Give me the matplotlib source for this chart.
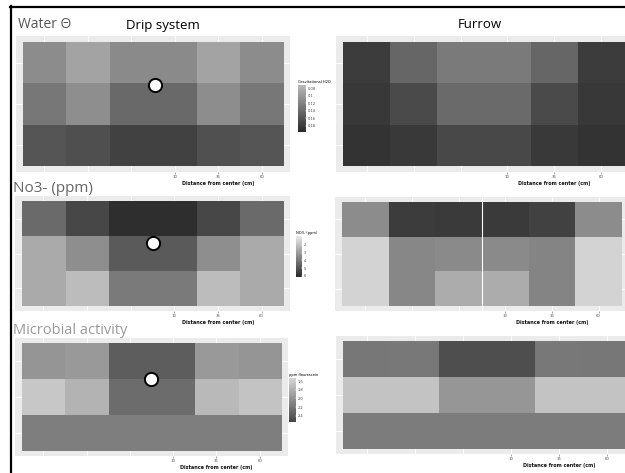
import numpy as np
import matplotlib
matplotlib.use('Agg')
import matplotlib.pyplot as plt
from matplotlib.colors import LinearSegmentedColormap
from matplotlib.lines import Line2D

W, H = 625, 473

# columns = distance from center (cm), rows = depth (top to bottom)
distances = ['-60', '-35', '-10', '10', '35', '60']
tick_labels = ['', '', '', '10', '35', '60']

# Gravitational H2O
water_drip = [
    [0.111, 0.091, 0.113, 0.113, 0.091, 0.111],
    [0.129, 0.109, 0.141, 0.141, 0.110, 0.129],
    [0.158, 0.163, 0.175, 0.175, 0.162, 0.158],
]
water_furrow = [
    [0.179, 0.143, 0.126, 0.126, 0.143, 0.179],
    [0.182, 0.167, 0.140, 0.140, 0.167, 0.182],
    [0.187, 0.181, 0.169, 0.169, 0.181, 0.187],
]
water_ticks = [0.08, 0.10, 0.12, 0.14, 0.16, 0.18]
water_tick_labels = ['0.08', '0.1', '0.12', '0.14', '0.16', '0.18']

# NO3- (ppm)
no3_drip = [
    [4.34, 5.29, 5.97, 5.97, 5.29, 4.34],
    [2.60, 3.36, 4.77, 4.77, 3.36, 2.60],
    [2.60, 2.12, 3.91, 3.91, 2.12, 2.60],
]
no3_furrow = [
    [3.42, 5.59, 5.64, 5.64, 5.45, 3.42],
    [1.49, 3.53, 3.47, 3.47, 3.61, 1.49],
    [1.49, 3.53, 2.55, 2.55, 3.61, 1.49],
]
no3_ticks = [2, 3, 4, 5, 6]

# microbial activity (ppm flourescein)
micro_drip = [
    [1.98, 1.95, 2.37, 2.37, 1.95, 1.98],
    [1.63, 1.77, 2.26, 2.26, 1.73, 1.66],
    [2.14, 2.14, 2.14, 2.14, 2.14, 2.14],
]
micro_furrow = [
    [2.19, 2.18, 2.47, 2.47, 2.18, 2.19],
    [1.66, 1.66, 1.97, 1.97, 1.66, 1.66],
    [2.15, 2.15, 2.15, 2.15, 2.15, 2.15],
]
micro_ticks = [1.6, 1.8, 2.0, 2.2, 2.4]

# drip emitter position (column index, depth index)
emitter_col = 2.5
emitter_depth = [0.55, 0.7, 0.5]


def px_axes(fig, left, top, right, bottom):
    return fig.add_axes([left / W, 1 - bottom / H, (right - left) / W, (bottom - top) / H])


def gray_cmap(light, dark):
    return LinearSegmentedColormap.from_list('g', [(light,) * 3, (dark,) * 3])


def draw_panel(fig, box, values, cmap, vmin, vmax):
    ax = px_axes(fig, *box)
    ax.set_facecolor('#ebebeb')
    im = ax.imshow(np.array(values), cmap=cmap, vmin=vmin, vmax=vmax, aspect='auto',
                   extent=(-0.5, 5.5, 2.5, -0.5), interpolation='nearest', zorder=2)
    ax.set_xlim(-0.65, 5.65)
    ax.set_ylim(2.65, -0.65)
    ax.set_xticks(range(len(distances)))
    ax.set_xticklabels(tick_labels, fontsize=2.8, color='#555555')
    ax.set_yticks(range(3))
    ax.set_axisbelow(True)
    ax.grid(color='white', lw=0.6)
    ax.tick_params(axis='x', length=1.2, width=0.4, color='#666666', pad=1.2)
    ax.tick_params(axis='y', length=0, labelleft=False)
    for t in ax.xaxis.get_major_ticks()[:3]:
        t.tick1line.set_visible(False)
    for s in ax.spines.values():
        s.set_visible(False)
    ax.set_xlabel('Distance from center (cm)', fontsize=3.5, labelpad=1.5, fontweight='bold',
                  x=(4 + 0.65) / 6.3, ha='center', color='#111111')
    return ax, im


def draw_legend(fig, box, im, title, ticks, labels=None):
    cax = px_axes(fig, *box)
    cb = fig.colorbar(im, cax=cax)
    cb.outline.set_visible(False)
    cb.set_ticks(ticks)
    if labels is not None:
        cb.set_ticklabels(labels)
    cax.invert_yaxis()
    cax.tick_params(labelsize=2.6, length=1, width=0.3, color='white', direction='in',
                    pad=1, labelcolor='#444444')
    cax.set_title(title, fontsize=2.6, loc='left', pad=1.5)


fig = plt.figure(figsize=(W / 100, H / 100), dpi=100)
fig.patch.set_facecolor('white')

water_cmap = gray_cmap(0.73, 0.16)
no3_cmap = gray_cmap(0.92, 0.16)
micro_cmap = gray_cmap(0.84, 0.27)

ax, im = draw_panel(fig, (16, 36, 290, 172), water_drip, water_cmap, 0.072, 0.196)
ax.scatter([emitter_col + 0.05], [emitter_depth[0]], s=90, c='white', edgecolors='black',
           linewidths=1.4, zorder=5)
draw_legend(fig, (298, 85, 306, 132), im, 'Gravitational H2O', water_ticks, water_tick_labels)
draw_panel(fig, (336, 36, 632, 172), water_furrow, water_cmap, 0.072, 0.196)

ax, im = draw_panel(fig, (15, 196, 290, 311), no3_drip, no3_cmap, 0.84, 6.13)
ax.scatter([emitter_col], [emitter_depth[1]], s=90, c='white', edgecolors='black',
           linewidths=1.4, zorder=5)
draw_legend(fig, (296, 236, 302, 277), im, 'NO3- (ppm)', no3_ticks)
ax, im = draw_panel(fig, (335, 197, 629, 311), no3_furrow, no3_cmap, 0.84, 6.13)
ax.axvline(2.5, color='white', lw=0.8, zorder=3)

ax, im = draw_panel(fig, (15, 338, 288, 456), micro_drip, micro_cmap, 1.53, 2.54)
ax.scatter([emitter_col], [emitter_depth[2]], s=90, c='white', edgecolors='black',
           linewidths=1.4, zorder=5)
draw_legend(fig, (289, 378, 296, 422), im, 'ppm flourescein', micro_ticks,
            ['1.6', '1.8', '2.0', '2.2', '2.4'])
draw_panel(fig, (336, 336, 638, 454), micro_furrow, micro_cmap, 1.53, 2.54)

# headings
font = ['Open Sans', 'DejaVu Sans']
fig.text(18 / W, 1 - 24 / H, 'Water Θ', fontsize=10, color='#555555', family=font,
         ha='left', va='center')
fig.text(163 / W, 1 - 26 / H, 'Drip system', fontsize=9.5, color='black', family=font,
         ha='center', va='center')
fig.text(480 / W, 1 - 25 / H, 'Furrow', fontsize=9.5, color='black', family=font,
         ha='center', va='center')
fig.text(13 / W, 1 - 188 / H, 'No3- (ppm)', fontsize=11, color='#666666', family=font,
         ha='left', va='center')
fig.text(13 / W, 1 - 330 / H, 'Microbial activity', fontsize=10.5, color='#999999',
         family=font, ha='left', va='center')

# frame lines
fig.add_artist(Line2D([10 / W, 1], [1 - 7 / H, 1 - 7 / H], color='black', lw=1.6))
fig.add_artist(Line2D([11 / W, 11 / W], [0, 1 - 6 / H], color='black', lw=1.6))

fig.savefig('out.png', dpi=100)
